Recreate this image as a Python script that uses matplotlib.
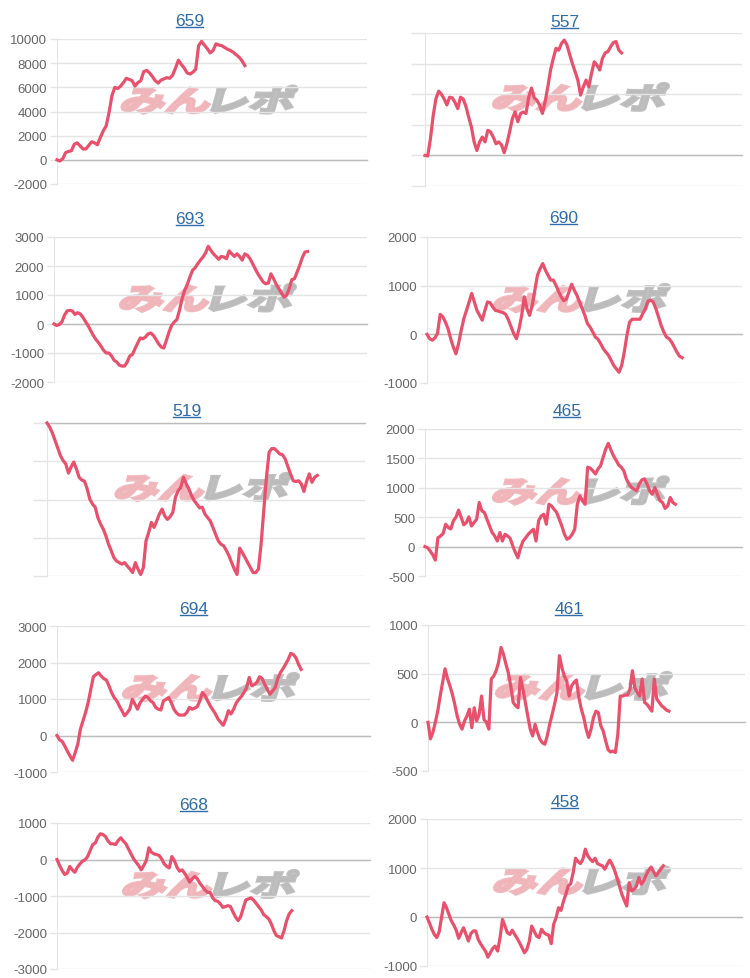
import numpy as np
import matplotlib
matplotlib.use("Agg")
import matplotlib.pyplot as plt
from matplotlib.textpath import TextPath
from matplotlib.patches import PathPatch
from matplotlib.font_manager import FontProperties
from matplotlib.transforms import Affine2D
from matplotlib.lines import Line2D

plt.rcParams['font.family'] = ['Liberation Sans', 'DejaVu Sans']
plt.rcParams['axes.unicode_minus'] = False

titles = ["659", "557", "693", "690", "519", "465", "694", "461", "668", "458"]

d659 = [0, -100, 100, 600, 700, 750, 1300, 1400, 1150, 900, 900, 1200, 1500, 1400, 1250, 1850,
        2400, 2800, 3900, 5300, 6000, 5900, 6100, 6400, 6750, 6650, 6550, 6100, 6400, 6550, 7300,
        7400, 7200, 6900, 6550, 6350, 6600, 6700, 6800, 6750, 7000, 7600, 8250, 7900, 7600, 7200,
        7100, 7250, 7500, 9450, 9800, 9500, 9200, 8850, 9050, 9600, 9500, 9450, 9300, 9150, 9050,
        8900, 8700, 8500, 8200, 7800]
d557 = [0, -20, 550, 1300, 1850, 2100, 2000, 1850, 1650, 1900, 1880, 1730, 1530, 1900, 1840, 1600,
        1250, 930, 440, 160, 440, 600, 440, 820, 770, 600, 380, 440, 350, 90, 380, 770, 1200, 1420,
        1100, 1370, 1420, 1370, 1900, 2200, 1880, 1800, 1640, 1370, 1750, 2240, 2790, 3170, 3500,
        3440, 3660, 3770, 3610, 3300, 3000, 2730, 2460, 1970, 2240, 2460, 2240, 2680, 3060, 2950,
        2790, 3170, 3350, 3390, 3550, 3690, 3720, 3440, 3350]
d693 = [0, -50, -20, 70, 300, 450, 470, 450, 330, 390, 350, 240, 90, -50, -220, -390, -530, -640,
        -770, -910, -1000, -1000, -1100, -1250, -1310, -1420, -1450, -1450, -1310, -1100, -1050,
        -850, -660, -480, -510, -450, -340, -310, -390, -530, -680, -790, -830, -560, -280, -50, 70,
        150, 470, 870, 1160, 1370, 1620, 1850, 1940, 2080, 2200, 2310, 2450, 2680, 2540, 2420, 2330,
        2230, 2330, 2310, 2250, 2520, 2420, 2330, 2420, 2330, 2200, 2420, 2370, 2250, 2080, 1900,
        1730, 1590, 1450, 1390, 1410, 1730, 1560, 1370, 1220, 1070, 930, 990, 1220, 1530, 1560, 1790,
        2020, 2290, 2480, 2500]
d690 = [0, -90, -120, -75, 20, 410, 360, 250, 115, -90, -260, -400, -190, 80, 320, 490, 665, 840,
        665, 490, 390, 290, 490, 665, 650, 560, 490, 480, 460, 445, 405, 290, 150, 10, -90, 115, 390,
        770, 530, 390, 600, 905, 1215, 1350, 1455, 1320, 1215, 1115, 1115, 1010, 885, 770, 690, 725,
        875, 1030, 905, 800, 665, 530, 390, 220, 150, 50, -55, -100, -190, -295, -365, -430, -535,
        -640, -710, -780, -640, -365, -20, 250, 310, 310, 310, 310, 425, 530, 680, 700, 665, 530, 360,
        185, 50, -55, -90, -160, -260, -365, -450, -480]
d519 = [0, -105, -260, -455, -650, -850, -980, -1070, -1310, -1150, -1020, -1200, -1420, -1490,
        -1520, -1720, -1990, -2120, -2200, -2470, -2640, -2770, -2950, -3170, -3340, -3520, -3610,
        -3650, -3690, -3650, -3740, -3820, -3910, -3650, -3820, -3960, -3780, -3080, -2860, -2600,
        -2730, -2560, -2380, -2250, -2430, -2520, -2450, -2340, -1940, -1770, -1680, -1420, -1590,
        -1720, -1900, -2030, -2120, -2220, -2200, -2380, -2470, -2560, -2730, -2910, -3080, -3170,
        -3210, -3330, -3470, -3650, -3820, -3960, -3270, -3390, -3520, -3650, -3780, -3910, -3910,
        -3820, -3170, -2290, -1420, -760, -670, -670, -740, -810, -830, -940, -1140, -1330, -1510,
        -1530, -1510, -1590, -1790, -1530, -1330, -1550, -1420, -1370]
d465 = [0, -20, -75, -140, -230, 150, 180, 220, 380, 325, 300, 440, 500, 620, 500, 370, 410, 505,
        350, 410, 465, 750, 610, 580, 465, 350, 240, 180, 95, 240, 95, 210, 180, 140, 10, -100, -190,
        -20, 95, 150, 210, 255, 295, 95, 440, 520, 550, 380, 720, 690, 635, 580, 465, 350, 210, 125,
        150, 210, 295, 720, 860, 780, 720, 1350, 1335, 1290, 1235, 1320, 1375, 1520, 1660, 1755, 1645,
        1545, 1470, 1390, 1350, 1290, 1150, 1065, 1005, 975, 950, 1065, 1135, 1150, 1065, 950, 890,
        1005, 890, 780, 750, 650, 690, 835, 750, 720]
d694 = [0, -120, -160, -290, -430, -560, -680, -470, -240, 170, 400, 630, 900, 1260, 1610, 1670,
        1720, 1630, 1560, 1520, 1360, 1180, 1040, 950, 810, 680, 540, 620, 720, 990, 860, 720, 900,
        990, 1080, 1040, 950, 900, 770, 720, 700, 950, 990, 1040, 900, 720, 620, 560, 560, 560, 630,
        770, 720, 750, 790, 950, 1180, 1090, 950, 810, 700, 590, 450, 360, 280, 450, 680, 590, 720,
        890, 990, 1070, 1180, 1310, 1590, 1360, 1400, 1460, 1610, 1560, 1400, 1260, 1130, 1220, 1310,
        1560, 1720, 1830, 1950, 2080, 2250, 2220, 2130, 1950, 1810]
d461 = [0, -170, -105, 0, 115, 270, 410, 550, 450, 375, 290, 185, 65, -20, -70, 15, 65, 135, -55,
        150, 15, 80, 270, 30, 0, -70, 445, 475, 530, 615, 770, 700, 600, 510, 375, 205, 170, 150, 460,
        340, 205, 65, -70, -140, -20, -105, -175, -210, -225, -140, -20, 80, 185, 305, 685, 565, 475,
        425, 270, 375, 410, 435, 255, 135, 50, -70, -155, -70, 50, 115, 100, -35, -90, -190, -280,
        -305, -295, -310, -125, 270, 270, 280, 280, 340, 530, 355, 305, 270, 445, 205, 185, 150, 115,
        445, 240, 205, 170, 150, 125, 115]
d668 = [0, -160, -300, -410, -375, -190, -285, -350, -210, -120, -45, -10, 80, 245, 410, 450, 610,
        705, 685, 630, 505, 430, 430, 410, 520, 595, 505, 430, 290, 155, 20, -75, -165, -285, -165,
        -30, 320, 200, 155, 135, 110, 20, -120, -190, -230, 80, -30, -210, -320, -285, -375, -485,
        -620, -530, -465, -530, -650, -740, -835, -900, -900, -1050, -1125, -1145, -1215, -1310,
        -1290, -1265, -1290, -1445, -1580, -1675, -1565, -1330, -1110, -1080, -1050, -1110, -1200,
        -1290, -1380, -1510, -1565, -1630, -1765, -1950, -2085, -2115, -2150, -1950, -1675, -1490,
        -1400]
d458 = [0, -120, -250, -355, -420, -300, 0, 290, 190, 55, -80, -165, -270, -435, -320, -220, -355,
        -490, -340, -285, -285, -455, -545, -625, -695, -820, -730, -640, -595, -695, -420, -50,
        -185, -320, -355, -270, -355, -435, -525, -625, -730, -660, -490, -185, -290, -390, -420,
        -250, -320, -355, -370, -545, -150, -15, 190, 135, 315, 465, 635, 680, 905, 1200, 1130, 1090,
        1180, 1385, 1250, 1180, 1130, 1200, 1090, 1065, 1045, 975, 1075, 1160, 1075, 955, 805, 635,
        465, 340, 225, 700, 530, 565, 635, 805, 670, 740, 860, 955, 1020, 925, 840, 910, 975, 1045]

series = [d659, d557, d693, d690, d519, d465, d694, d461, d668, d458]
# y axis: (min, max, step)
yscale = [(-2000, 10000, 2000), (-1000, 4000, 1000), (-2000, 3000, 1000), (-1000, 2000, 1000),
          (-4000, 0, 1000), (-500, 2000, 500), (-1000, 3000, 1000), (-500, 1000, 500),
          (-3000, 1000, 1000), (-1000, 2000, 1000)]
show_labels = [True, False, True, True, False, True, True, True, True, True]
# how much of the x axis the line covers
fill = [0.606, 0.62, 0.81, 0.81, 0.85, 0.79, 0.78, 0.76, 0.75, 0.75]

# layout in pixels (left, top, right, bottom) and title centres
boxes = [(57, 40, 367, 185), (425, 34, 742, 187),
         (54, 238, 367, 383), (427, 238, 742, 384),
         (47, 424, 365, 577), (425, 430, 742, 577),
         (57, 627, 370, 773), (428, 626, 745, 772),
         (57, 824, 370, 970), (427, 820, 742, 967)]
title_xy = [(190, 20), (565, 21), (190, 218), (564, 217), (187, 410),
            (567, 410), (194, 608), (569, 608), (194, 804), (565, 801)]

W, H = 750, 979
RED = '#e8506c'
GRID = '#e4e4e4'
BLUE = '#2e6cab'

fig = plt.figure(figsize=(W / 100, H / 100), dpi=100)
fp = FontProperties(family='Noto Sans CJK JP', weight='bold')

# watermark glyphs, stretched wide and flat like the logo
p1 = TextPath((0, 0), "みん", size=40, prop=fp)
p2 = TextPath((0, 0), "レポ", size=40, prop=fp)
e1 = p1.get_extents()
e2 = p2.get_extents()
gap = 4
wm_w, wm_h = 170, 27
sx = (wm_w - gap) / (e1.width + e2.width)
sy = wm_h / max(e1.height, e2.height)
slant = 16

for i in range(10):
    l, t, r, b = boxes[i]
    ax = fig.add_axes([l / W, 1 - b / H, (r - l) / W, (b - t) / H])
    y = series[i]
    x = np.arange(len(y))
    ax.plot(x, y, color=RED, lw=2.3, solid_joinstyle='round', zorder=3, clip_on=False)
    lo, hi, st = yscale[i]
    ax.set_ylim(lo, hi)
    ax.set_yticks(np.arange(lo, hi + 1, st))
    ax.set_xlim(0, (len(y) - 1) / fill[i])
    ax.set_xticks([])
    for s in ['top', 'right', 'bottom']:
        ax.spines[s].set_visible(False)
    ax.spines['left'].set_color(GRID)
    ax.grid(axis='y', color=GRID, lw=1)
    ax.set_axisbelow(True)
    ax.axhline(0, color='#bcbcbc', lw=1, zorder=1, clip_on=False)
    if show_labels[i]:
        ax.tick_params(axis='y', length=5, width=1, color=GRID, labelsize=9.5,
                       labelcolor='#666666', pad=2)
    else:
        ax.tick_params(axis='y', length=10, width=1, color=GRID, labelleft=False)

    tx, ty = title_xy[i]
    fig.text(tx / W, 1 - (ty + 6) / H, titles[i], color=BLUE, fontsize=12.5,
             ha='center', va='baseline')

    cx, cy = ax.transAxes.transform((0.49, 0.58))
    x0 = cx - wm_w / 2 - wm_h * np.tan(np.radians(slant)) / 2
    base = cy - wm_h / 2
    tr1 = (Affine2D().translate(-e1.x0, -e1.y0).scale(sx, sy).skew_deg(slant, 0)
           .translate(x0, base))
    tr2 = (Affine2D().translate(-e2.x0, -e1.y0).scale(sx, sy).skew_deg(slant, 0)
           .translate(x0 + e1.width * sx + gap, base))
    ax.add_artist(PathPatch(p1, transform=tr1, facecolor='#efb3b8', edgecolor='#efb3b8',
                            lw=2.2, alpha=0.9, zorder=0.4))
    ax.add_artist(PathPatch(p2, transform=tr2, facecolor='#bababa', edgecolor='#bababa',
                            lw=2.2, alpha=0.9, zorder=0.4))

# underline the titles
fig.canvas.draw()
renderer = fig.canvas.get_renderer()
for t in list(fig.texts):
    bb = t.get_window_extent(renderer)
    yb = t.get_position()[1] * H - 2
    fig.add_artist(Line2D([bb.x0 / W + 0.5 / W, bb.x1 / W - 1.5 / W], [yb / H, yb / H],
                          color=BLUE, lw=1, transform=fig.transFigure))

fig.savefig('out.png', dpi=100, facecolor='white')
